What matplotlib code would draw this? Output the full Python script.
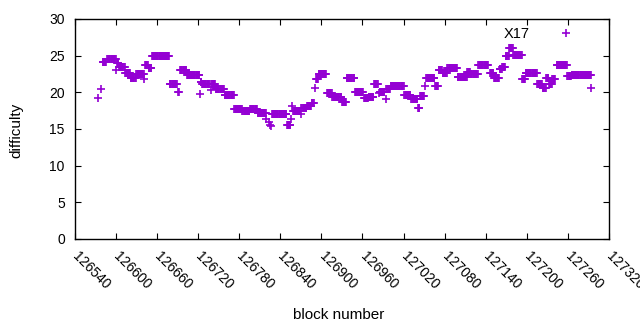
import numpy as np
import matplotlib
matplotlib.use("Agg")
import matplotlib.pyplot as plt

plt.rcParams['font.family'] = ['Liberation Sans', 'DejaVu Sans']

run_start = [126575, 126578, 126581, 126588, 126601, 126602, 126605, 126614, 126622, 126630,
             126642, 126643, 126648, 126653, 126679, 126691, 126694, 126704, 126723, 126724,
             126726, 126739, 126740, 126746, 126759, 126773, 126785, 126796, 126807, 126820,
             126823, 126825, 126827, 126828, 126850, 126856, 126857, 126859, 126870, 126871,
             126879, 126886, 126891, 126892, 126896, 126908, 126916, 126930, 126937, 126949,
             126962, 126969, 126977, 126984, 126985, 126994, 126995, 127001, 127021, 127031,
             127041, 127044, 127051, 127053, 127066, 127071, 127077, 127084, 127099, 127113,
             127118, 127129, 127146, 127152, 127160, 127164, 127169, 127174, 127180, 127193,
             127198, 127215, 127223, 127228, 127232, 127237, 127243, 127259, 127265, 127294]
run_end = [126575, 126578, 126586, 126600, 126601, 126604, 126613, 126621, 126629, 126641,
           126642, 126647, 126652, 126678, 126689, 126692, 126703, 126722, 126723, 126725,
           126737, 126739, 126745, 126758, 126772, 126784, 126795, 126806, 126819, 126820,
           126823, 126825, 126827, 126849, 126855, 126856, 126857, 126869, 126870, 126878,
           126885, 126889, 126891, 126895, 126907, 126915, 126929, 126936, 126948, 126961,
           126968, 126976, 126982, 126984, 126992, 126994, 127000, 127020, 127030, 127040,
           127043, 127050, 127051, 127065, 127070, 127076, 127083, 127098, 127112, 127117,
           127128, 127143, 127151, 127159, 127163, 127168, 127173, 127179, 127192, 127197,
           127214, 127222, 127227, 127231, 127236, 127241, 127258, 127264, 127293, 127294]
run_value = [19.2, 20.4, 24.2, 24.5, 23.05, 24.0, 23.45, 22.7, 22.0, 22.5,
             21.8, 23.7, 23.3, 24.9, 21.2, 20.1, 23.1, 22.3, 19.8, 21.4,
             21.1, 20.3, 21.2, 20.4, 19.7, 17.7, 17.4, 17.7, 17.2, 16.3,
             16.0, 15.6, 15.4, 17.1, 15.6, 16.3, 18.1, 17.5, 17.1, 17.8,
             18.1, 18.5, 20.55, 21.8, 22.45, 19.9, 19.3, 18.7, 21.9, 20.0,
             19.2, 19.3, 21.1, 19.9, 20.1, 19.1, 20.5, 20.8, 19.6, 19.05,
             17.8, 19.45, 20.9, 21.9, 20.9, 23.05, 22.6, 23.3, 22.1, 22.8,
             22.55, 23.7, 22.6, 21.9, 23.2, 23.5, 24.9, 26.1, 25.05, 21.8,
             22.6, 21.2, 20.55, 21.9, 21.1, 21.8, 23.7, 22.2, 22.35, 20.55]

xticks = np.arange(126540, 127321, 60)
yticks = np.arange(0, 31, 5)

blocks = np.concatenate([np.arange(s, e + 1) for s, e in zip(run_start, run_end)])
diff = np.concatenate([np.full(e - s + 1, v) for s, e, v in zip(run_start, run_end, run_value)])

fig = plt.figure(figsize=(6.4, 3.3), dpi=100)
ax = fig.add_axes([74.5 / 640, 1 - 239 / 330, 534.8 / 640, 220 / 330])

ax.plot(blocks, diff, linestyle='none', marker='+', markersize=6.2,
        markeredgewidth=1.2, color='#9400d3', label='X17')

ax.set_xlim(126540, 127320)
ax.set_ylim(0, 30)
ax.set_xticks(xticks)
ax.set_yticks(yticks)
ax.set_xticklabels([str(t) for t in xticks], rotation=-45, ha='left', va='center',
                   rotation_mode='anchor')
ax.tick_params(direction='in', length=4, top=True, right=True, labelsize=10,
               color='black')
ax.tick_params(axis='x', pad=11)
ax.tick_params(axis='y', pad=7)
for s in ax.spines.values():
    s.set_linewidth(1.0)

ax.set_xlabel('block number', fontsize=11)
ax.set_ylabel('difficulty', fontsize=11)
ax.xaxis.set_label_coords(0.4946, -0.315)
ax.yaxis.set_label_coords(-0.095, 0.495)

ax.legend(loc='upper right', bbox_to_anchor=(0.933, 0.962), frameon=False,
          markerfirst=False, handlelength=1.0, handletextpad=2.0,
          borderpad=0, borderaxespad=0, fontsize=10.5)

fig.savefig('out.png', dpi=100)
